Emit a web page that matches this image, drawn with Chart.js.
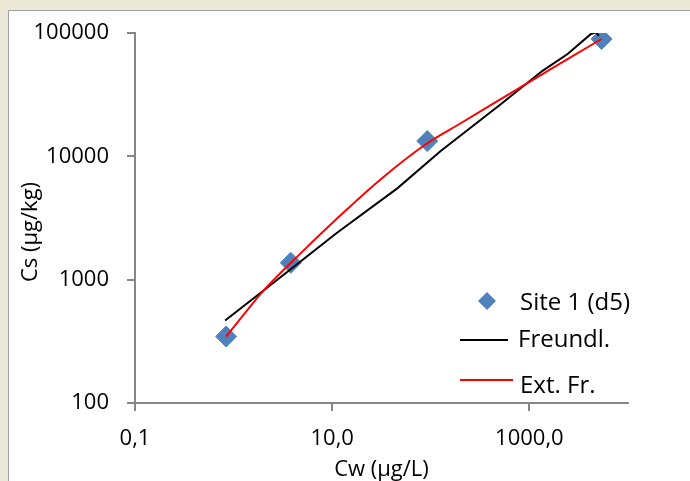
<!DOCTYPE html>
<html>
<head>
<meta charset="utf-8">
<script src="https://cdn.jsdelivr.net/npm/chart.js@4.4.1/dist/chart.umd.min.js"></script>
<style>
  html, body { margin: 0; padding: 0; background: #ECE9D8; overflow: hidden; }
  #frame {
    position: absolute; left: 8px; top: 10px; width: 700px; height: 500px;
    background: #fff; border: 1px solid #a0a0a0;
  }
  #chart { position: absolute; left: 0; top: 0; }
</style>
</head>
<body>
<div id="frame"><canvas id="chart" width="681" height="470"></canvas></div>
<script>
'use strict';

// measured points
const siteCw = [0.84, 3.8, 92, 5400];
const siteCs = [346, 1370, 13300, 89400];

// Freundlich fit line
const freundlCw = [0.82, 2.0, 11.2, 45.7, 126, 512, 1358, 2440, 4210, 4730, 5070];
const freundlCs = [467, 814, 2398, 5500, 11040, 26460, 49350, 67500, 98200, 101400, 94600];

// extended Freundlich fit
const extCw = [0.84, 1.31, 2.01, 4.75, 11.2, 30.9, 92, 201, 512, 1358, 2636, 5400];
const extCs = [346, 539, 814, 1627, 3133, 6500, 12760, 18550, 29060, 46400, 63800, 89400];

const xTickValues = [0.1, 10, 1000];
const xTickLabels = ['0,1', '10,0', '1000,0'];
const yTickValues = [100, 1000, 10000, 100000];
const yTickLabels = ['100', '1000', '10000', '100000'];

const FONT = 'Open Sans';
const axisGray = '#868686';

function toPoints(xs, ys) {
  return xs.map((x, i) => ({ x: x, y: ys[i] }));
}

// the axis label overflow must not push the plot area around
function noPadding(scale) {
  scale.paddingTop = 0;
  scale.paddingBottom = 0;
  scale.paddingLeft = 0;
  scale.paddingRight = 0;
}

const chartData = {
  datasets: [
    {
      label: 'Site 1 (d5)',
      data: toPoints(siteCw, siteCs),
      pointStyle: 'rectRot',
      pointRadius: 10.5,
      pointBackgroundColor: '#4F81BD',
      pointBorderColor: '#4F81BD',
      pointBorderWidth: 1,
      showLine: false,
      order: 3,
    },
    {
      label: 'Freundl.',
      data: toPoints(freundlCw, freundlCs),
      borderColor: '#000000',
      borderWidth: 2,
      pointRadius: 0,
      showLine: true,
      order: 2,
    },
    {
      label: 'Ext. Fr.',
      data: toPoints(extCw, extCs),
      borderColor: '#FF0000',
      borderWidth: 2,
      pointRadius: 0,
      showLine: true,
      cubicInterpolationMode: 'monotone',
      order: 1,
    },
  ],
};

// legend drawn inside the plot, lower right, like the original
const legendBox = {
  id: 'legendBox',
  afterDraw(chart) {
    const ctx = chart.ctx;
    const ds = chart.data.datasets;
    ctx.save();
    ctx.font = '24px ' + FONT;
    ctx.fillStyle = '#000';
    ctx.textAlign = 'left';
    ctx.textBaseline = 'alphabetic';

    // diamond
    const cx = 478, cy = 290, r = 9;
    ctx.beginPath();
    ctx.moveTo(cx, cy - r);
    ctx.lineTo(cx + r, cy);
    ctx.lineTo(cx, cy + r);
    ctx.lineTo(cx - r, cy);
    ctx.closePath();
    ctx.fillStyle = ds[0].pointBackgroundColor;
    ctx.fill();
    ctx.fillStyle = '#000';
    ctx.fillText(ds[0].label, 511, 299);

    ctx.lineWidth = 2;
    ctx.strokeStyle = ds[1].borderColor;
    ctx.beginPath();
    ctx.moveTo(451, 329);
    ctx.lineTo(499, 329);
    ctx.stroke();
    ctx.fillText(ds[1].label, 509, 336);

    ctx.strokeStyle = ds[2].borderColor;
    ctx.beginPath();
    ctx.moveTo(451, 369);
    ctx.lineTo(504, 369);
    ctx.stroke();
    ctx.fillText(ds[2].label, 511, 382);

    // y axis title
    ctx.font = '22px ' + FONT;
    ctx.translate(28, 221);
    ctx.rotate(-Math.PI / 2);
    ctx.textAlign = 'center';
    ctx.fillText('Cs (µg/kg)', 0, 0);
    ctx.restore();
  },
};

const options = {
  responsive: false,
  animation: false,
  layout: {
    padding: { top: 22, right: 62, bottom: 0, left: 0 },
  },
  scales: {
    x: {
      type: 'logarithmic',
      min: 0.1,
      max: 10000,
      border: { color: axisGray, width: 2 },
      grid: {
        drawOnChartArea: false,
        drawTicks: true,
        tickLength: 8,
        color: axisGray,
        lineWidth: 2,
      },
      afterBuildTicks: (scale) => {
        scale.ticks = xTickValues.map((v) => ({ value: v }));
      },
      afterFit: (scale) => {
        scale.height = 78;
        noPadding(scale);
      },
      ticks: {
        autoSkip: false,
        maxRotation: 0,
        padding: 15,
        color: '#000',
        font: { family: FONT, size: 22 },
        callback: function (value, index) {
          return xTickLabels[index];
        },
      },
      title: {
        display: true,
        text: 'Cw (µg/L)',
        color: '#000',
        font: { family: FONT, size: 22, lineHeight: 1 },
        padding: { top: 0, bottom: 0 },
      },
    },
    y: {
      type: 'logarithmic',
      min: 100,
      max: 100000,
      border: { color: axisGray, width: 2 },
      grid: {
        drawOnChartArea: false,
        drawTicks: true,
        tickLength: 8,
        color: axisGray,
        lineWidth: 2,
      },
      afterBuildTicks: (scale) => {
        scale.ticks = yTickValues.map((v) => ({ value: v }));
      },
      afterFit: (scale) => {
        scale.width = 126;
        noPadding(scale);
      },
      ticks: {
        autoSkip: false,
        padding: 18,
        color: '#000',
        font: { family: FONT, size: 22 },
        callback: function (value, index) {
          return yTickLabels[index];
        },
      },
    },
  },
  plugins: {
    legend: { display: false },
    tooltip: { enabled: false },
  },
};

const config = {
  type: 'scatter',
  data: chartData,
  options: options,
  plugins: [legendBox],
};

const ctx = document.getElementById('chart');
const myChart = new Chart(ctx, config);
</script>
</body>
</html>
